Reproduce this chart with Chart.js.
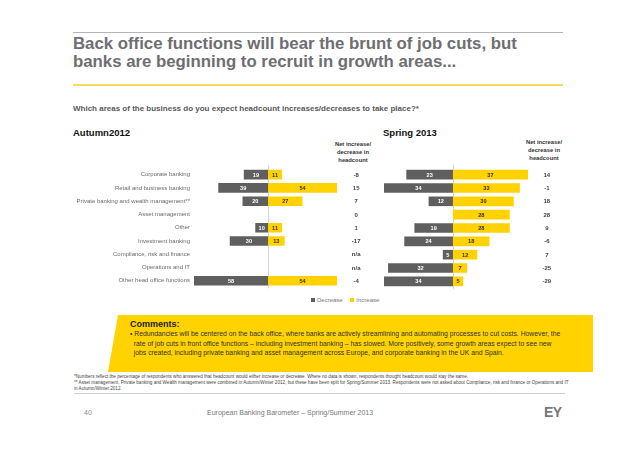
<!DOCTYPE html>
<html lang="en">

<head>
    <meta charset="UTF-8">
    <title>headcount chart</title>
    <script src="https://cdn.jsdelivr.net/npm/chart.js"></script>
    <style>
        body { margin: 0; width: 638px; height: 451px; background: #fff; position: relative; overflow: hidden;
               font-family: 'Liberation Sans', Arial, sans-serif; }
        .abs { position: absolute; white-space: nowrap; }
        .head { text-align: center; font-weight: bold; font-size: 5.8px; line-height: 7.8px; color: #333; width: 60px; }
    </style>
</head>

<body>
    <div class="abs" style="left:73px;top:32px;width:490px;height:0;border-top:1px solid #b4b4b4;"></div>
    <div class="abs" style="left:73px;top:35px;font-size:16.8px;line-height:18px;font-weight:bold;color:#6d6e71;">
        Back office functions will bear the brunt of job cuts, but<br>banks are beginning to recruit in growth areas...</div>
    <div class="abs" style="left:73px;top:84px;width:490px;height:2px;background:#f7dc5c;"></div>
    <div class="abs" style="left:73px;top:104px;font-size:8px;line-height:10px;font-weight:bold;color:#58595b;">
        Which areas of the business do you expect headcount increases/decreases to take place?*</div>

    <div class="abs" style="left:73px;top:127px;font-size:9.5px;line-height:12px;font-weight:bold;color:#111;">Autumn2012</div>
    <div class="abs" style="left:383px;top:127px;font-size:9.5px;line-height:12px;font-weight:bold;color:#111;">Spring 2013</div>
    <div class="abs head" style="left:323px;top:141px;">Net increase/<br>decrease in<br>headcount</div>
    <div class="abs head" style="left:514px;top:139px;">Net increase/<br>decrease in<br>headcount</div>

    <canvas id="autumn" width="380" height="135" class="abs" style="left:0;top:160px;"></canvas>
    <canvas id="spring" width="258" height="135" class="abs" style="left:380px;top:160px;"></canvas>

    <div class="abs" style="left:311px;top:297px;font-size:6px;line-height:7px;color:#777;">
        <span style="display:inline-block;width:4px;height:4px;background:#5f5f5f;margin-right:2px;"></span>Decrease
        <span style="display:inline-block;width:4px;height:4px;background:#ffd200;margin:0 2px 0 6px;"></span>Increase
    </div>

    <div class="abs" style="left:108px;top:315px;width:485px;height:57px;background:#ffd200;
         clip-path:polygon(10px 0,100% 0,100% 100%,0 100%);"></div>
    <div class="abs" style="left:130px;top:319px;font-size:9px;line-height:11px;font-weight:bold;color:#222;">Comments:</div>
    <div class="abs" style="left:130px;top:329px;font-size:6.8px;line-height:9.5px;color:#333;">
        •&nbsp;Redundancies will be centered on the back office, where banks are actively streamlining and automating processes to cut costs. However, the<br>
        &nbsp;&nbsp;rate of job cuts in front office functions – including investment banking – has slowed. More positively, some growth areas expect to see new<br>
        &nbsp;&nbsp;jobs created, including private banking and asset management across Europe, and corporate banking in the UK and Spain.</div>

    <div class="abs" style="left:74px;top:374px;font-size:4.6px;line-height:5.8px;color:#444;">
        *Numbers reflect the percentage of respondents who answered that headcount would either increase or decrease. Where no data is shown, respondents thought headcount would stay the same.<br>
        ** Asset management, Private banking and Wealth management were combined in Autumn/Winter 2012, but these have been split for Spring/Summer 2013. Respondents were not asked about Compliance, risk and finance or Operations and IT<br>
        in Autumn/Winter 2012.</div>
    <div class="abs" style="left:74px;top:393px;width:491px;height:0;border-top:1px solid #d0d0d0;"></div>

    <div class="abs" style="left:84px;top:409px;font-size:7px;line-height:8px;color:#888;">40</div>
    <div class="abs" style="left:207px;top:409px;font-size:7px;line-height:8px;color:#777;">European Banking Barometer – Spring/Summer 2013</div>
    <div class="abs" style="left:544px;top:404px;font-size:14px;line-height:16px;font-weight:bold;color:#777;letter-spacing:-0.5px;">EY</div>

    <script>
        const categories = ['Corporate banking', 'Retail and business banking', 'Private banking and wealth management**',
            'Asset management', 'Other', 'Investment banking', 'Compliance, risk and finance', 'Operations and IT',
            'Other head office functions'];

        // Autumn 2012
        const autumnDecrease = [19, 39, 20, null, 10, 30, null, null, 58];
        const autumnIncrease = [11, 54, 27, null, 11, 13, null, null, 54];
        const autumnNet = ['-8', '15', '7', '0', '1', '-17', 'n/a', 'n/a', '-4'];

        // Spring 2013
        const springDecrease = [23, 34, 12, null, 19, 24, 5, 32, 34];
        const springIncrease = [37, 33, 30, 28, 28, 18, 12, 7, 5];
        const springNet = ['14', '-1', '18', '28', '9', '-6', '7', '-25', '-29'];

        const darkColor = '#5f5f5f';
        const yellowColor = '#ffd200';
        Chart.defaults.font.family = "'Liberation Sans', Arial, sans-serif";

        // zero line, value labels in bars, net column
        const extras = {
            id: 'extras',
            beforeDatasetsDraw(chart) {
                const { ctx, chartArea, scales } = chart;
                const x0 = Math.round(scales.x.getPixelForValue(0)) + 0.5;
                ctx.save();
                ctx.strokeStyle = '#d4d4d4';
                ctx.lineWidth = 1;
                ctx.beginPath();
                ctx.moveTo(x0, chartArea.top - 3);
                ctx.lineTo(x0, chartArea.bottom + 1);
                ctx.stroke();
                ctx.restore();
            },
            afterDatasetsDraw(chart, args, opts) {
                const { ctx, scales } = chart;
                ctx.save();
                ctx.textAlign = 'center';
                ctx.textBaseline = 'middle';
                ctx.font = "bold 5.6px 'Liberation Sans', Arial, sans-serif";
                chart.data.datasets.forEach((ds, di) => {
                    chart.getDatasetMeta(di).data.forEach((el, i) => {
                        const v = ds.data[i];
                        if (v == null) return;
                        ctx.fillStyle = di === 0 ? '#ffffff' : '#333333';
                        ctx.fillText(Math.abs(v), (el.x + el.base) / 2, el.y + 0.5);
                    });
                });
                ctx.font = "bold 6px 'Liberation Sans', Arial, sans-serif";
                ctx.fillStyle = '#444';
                const nx = scales.x.getPixelForValue(opts.netPos);
                opts.net.forEach((t, i) => {
                    ctx.fillText(t, nx, scales.y.getPixelForValue(i) + 0.5);
                });
                ctx.restore();
            }
        };

        function makeChart(id, dec, inc, net, min, max, netPos, padding, labelWidth) {
            return new Chart(document.getElementById(id), {
                type: 'bar',
                data: {
                    labels: categories,
                    datasets: [{
                        label: 'Decrease',
                        data: dec.map(v => v == null ? null : -v),
                        backgroundColor: darkColor
                    }, {
                        label: 'Increase',
                        data: inc,
                        backgroundColor: yellowColor
                    }]
                },
                options: {
                    indexAxis: 'y',
                    responsive: false,
                    animation: false,
                    categoryPercentage: 1,
                    barPercentage: 0.72,
                    layout: { padding: padding },
                    plugins: {
                        legend: { display: false },
                        tooltip: { enabled: false },
                        extras: { net: net, netPos: netPos }
                    },
                    scales: {
                        x: { display: false, stacked: true, min: min, max: max },
                        y: {
                            display: labelWidth > 0,
                            stacked: true,
                            grid: { display: false, drawTicks: false },
                            border: { display: false },
                            ticks: { color: '#6a6a6a', font: { size: 6 }, padding: 4, autoSkip: false },
                            afterFit: s => { s.width = labelWidth; }
                        }
                    }
                },
                plugins: [extras]
            });
        }

        makeChart('autumn', autumnDecrease, autumnIncrease, autumnNet, -58, 54, 69,
            { top: 8, bottom: 7, left: 0, right: 43 }, 194);
        makeChart('spring', springDecrease, springIncrease, springNet, -34, 37, 46.3,
            { top: 8, bottom: 7, left: 4, right: 110 }, 0);
    </script>
</body>

</html>
